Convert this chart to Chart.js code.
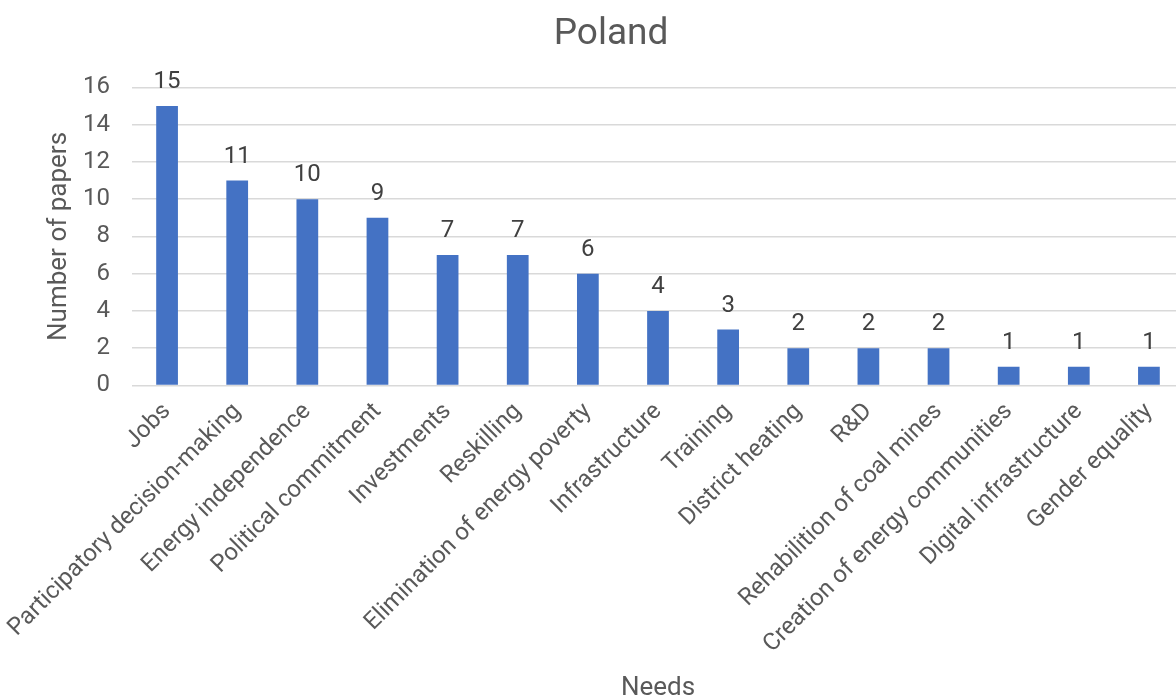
<!DOCTYPE html>
<html lang="en">
<head>
    <meta charset="UTF-8">
    <title>Poland - Needs</title>
    <script src="https://cdn.jsdelivr.net/npm/chart.js"></script>
    <style>
        * { margin: 0; padding: 0; box-sizing: border-box; }
        html, body { width: 100%; height: 100%; overflow: hidden; background: #fff; }
        .chart-container { position: relative; width: 1222px; height: 704px; }
    </style>
</head>
<body>
    <div class="chart-container">
        <canvas id="needsChart"></canvas>
    </div>

    <script>
        const needs = [
            'Jobs', 'Participatory decision-making', 'Energy independence',
            'Political commitment', 'Investments', 'Reskilling',
            'Elimination of energy poverty', 'Infrastructure', 'Training',
            'District heating', 'R&D', 'Rehabilition of coal mines',
            'Creation of energy communities', 'Digital infrastructure', 'Gender equality'
        ];
        const papers = [15, 11, 10, 9, 7, 7, 6, 4, 3, 2, 2, 2, 1, 1, 1];
        const yTicks = [0, 2, 4, 6, 8, 10, 12, 14, 16];

        // writes the value above each bar
        const valueLabels = {
            id: 'valueLabels',
            afterDatasetsDraw(chart) {
                const ctx = chart.ctx;
                const meta = chart.getDatasetMeta(0);
                ctx.save();
                ctx.font = '24px Roboto';
                ctx.fillStyle = '#404040';
                ctx.textAlign = 'center';
                ctx.textBaseline = 'bottom';
                meta.data.forEach((bar, i) => {
                    ctx.fillText(papers[i], bar.x, bar.y - 12);
                });
                ctx.restore();
            }
        };

        const ctx = document.getElementById('needsChart').getContext('2d');
        new Chart(ctx, {
            type: 'bar',
            data: {
                labels: needs,
                datasets: [{
                    label: 'Number of papers',
                    data: papers,
                    backgroundColor: '#4472C4',
                    categoryPercentage: 1,
                    barPercentage: 0.31
                }]
            },
            options: {
                responsive: true,
                maintainAspectRatio: false,
                animation: false,
                layout: { padding: { left: 38, right: 38, top: 11, bottom: 0 } },
                plugins: {
                    legend: { display: false },
                    tooltip: { enabled: false },
                    title: {
                        display: true,
                        text: 'Poland',
                        color: '#595959',
                        font: { family: 'Roboto', size: 37, weight: 'normal' },
                        padding: { top: 2, bottom: 30 }
                    }
                },
                scales: {
                    x: {
                        grid: { display: false, drawTicks: false },
                        border: { display: false },
                        ticks: {
                            autoSkip: false,
                            maxRotation: 45,
                            minRotation: 45,
                            padding: 12,
                            color: '#595959',
                            font: { family: 'Roboto', size: 24 }
                        },
                        title: {
                            display: true,
                            text: 'Needs',
                            color: '#595959',
                            font: { family: 'Roboto', size: 26 },
                            padding: { top: 2, bottom: 0 }
                        }
                    },
                    y: {
                        min: 0,
                        max: 16,
                        afterBuildTicks(axis) {
                            axis.ticks = yTicks.map(v => ({ value: v }));
                        },
                        // fixed axis width so the title sits close to the tick labels
                        afterFit(axis) {
                            axis.width = 94;
                        },
                        grid: { color: '#d9d9d9', lineWidth: 1.5, drawTicks: false },
                        border: { display: false },
                        ticks: {
                            padding: 22,
                            color: '#595959',
                            font: { family: 'Roboto', size: 24 }
                        },
                        title: {
                            display: true,
                            text: 'Number of papers',
                            color: '#595959',
                            font: { family: 'Roboto', size: 26 },
                            padding: { top: 6, bottom: 0 }
                        }
                    }
                }
            },
            plugins: [valueLabels]
        });
    </script>
</body>
</html>
